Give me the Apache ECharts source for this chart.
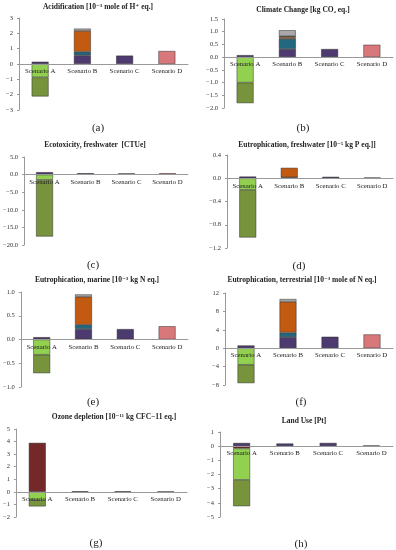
<!DOCTYPE html>
<html><head><meta charset="utf-8">
<script src="https://cdn.jsdelivr.net/npm/echarts@6/dist/echarts.min.js"></script>
<style>html,body{margin:0;padding:0;background:#fff}#c{width:396px;height:550px}</style>
</head><body><div id="c"></div>
<script>
// Categories
const scenarios = ['Scenario A', 'Scenario B', 'Scenario C', 'Scenario D'];
// Panel titles
const titles = [
  'Acidification [10\u207B\u00B3 mole of H\u207A eq.]',
  'Climate Change [kg CO\u2082 eq.]',
  'Ecotoxicity, freshwater  [CTUe]',
  'Eutrophication, freshwater [10\u207B\u2075 kg P eq.]]',
  'Eutrophication, marine [10\u207B\u00B3 kg N eq.]',
  'Eutrophication, terrestrial [10\u207B\u00B3 mole of N eq.]',
  'Ozone depletion [10\u207B\u00B9\u00B9 kg CFC\u221211 eq.]',
  'Land Use [Pt]'
];
const panelLetters = ['(a)', '(b)', '(c)', '(d)', '(e)', '(f)', '(g)', '(h)'];
// Axis ranges per panel
const yMin = [-3, -2, -20, -1.2, -1, -8, -2, -5];
const yMax = [3, 1.5, 5, 0.4, 1, 12, 5, 1];
const yStep = [1, 0.5, 5, 0.4, 0.5, 4, 1, 1];
const yDecimals = [0, 1, 1, 1, 1, 0, 0, 0];

// Stack components, one row per panel (a..h), values for Scenario A..D
const purple = [
  [0.15, 0.57, 0.55, 0], [0.08, 0.32, 0.32, 0], [0.7, 0.4, 0.35, 0], [0.03, 0.015, 0.025, 0],
  [0.05, 0.22, 0.22, 0], [0.6, 2.4, 2.5, 0], [0, 0.05, 0.05, 0], [0.23, 0.19, 0.23, 0]
];
const teal = [
  [0, 0.23, 0, 0], [0, 0.40, 0, 0], [0, 0, 0, 0], [0, 0, 0, 0],
  [0, 0.09, 0, 0], [0, 1.0, 0, 0], [0, 0, 0, 0], [0, 0, 0, 0]
];
const orange = [
  [0, 1.36, 0, 0], [0, 0.07, 0, 0], [0, 0, 0, 0], [0, 0.165, 0, 0],
  [0, 0.59, 0, 0], [0, 6.7, 0, 0], [0, 0, 0, 0], [0, 0, 0, 0]
];
const darkRed = [
  [0, 0, 0, 0], [0, 0.04, 0, 0], [0, 0, 0, 0], [0, 0, 0, 0],
  [0, 0, 0, 0], [0, 0, 0, 0], [3.9, 0, 0, 0], [-0.16, 0, 0, 0]
];
const gray = [
  [0, 0.15, 0, 0], [0, 0.23, 0, 0], [0, 0, 0, 0], [0, 0, 0, 0],
  [0, 0.05, 0, 0], [0, 0.6, 0, 0], [0, 0, 0, 0], [0, 0, 0, 0]
];
const lightGreen = [
  [-0.87, 0, 0, 0], [-1.0, 0, 0, 0], [-1.5, 0, 0, 0], [-0.2, 0, 0, 0],
  [-0.32, 0, 0, 0], [-3.6, 0, 0, 0], [-0.66, 0, 0, 0], [-2.22, 0, 0, 0]
];
const olive = [
  [-1.25, 0, 0, 0], [-0.81, 0, 0, 0], [-16.1, 0, 0, 0], [-0.82, 0, 0, 0],
  [-0.39, 0, 0, 0], [-4.0, 0, 0, 0], [-0.5, 0, 0, 0], [-1.86, 0, 0, 0]
];
const pink = [
  [0, 0, 0, 0.85], [0, 0, 0, 0.49], [0, 0, 0, 0.4], [0, 0, 0, 0.012],
  [0, 0, 0, 0.28], [0, 0, 0, 3.0], [0, 0, 0, 0.02], [0, 0, 0, 0.05]
];

const seriesData = [purple, teal, orange, darkRed, gray, lightGreen, olive, pink];
const seriesColors = ['#4d3b6f', '#24687f', '#c25a12', '#75282a', '#a8a8a8', '#92d050', '#77933c', '#d9787b'];

// Layout (pixels)
const grids = [
  {left: 19, top: 18, width: 169, height: 92},
  {left: 224, top: 19, width: 169, height: 89},
  {left: 22, top: 157, width: 166, height: 88},
  {left: 227, top: 155, width: 166, height: 93},
  {left: 20, top: 292, width: 168, height: 95},
  {left: 225, top: 293, width: 168, height: 92},
  {left: 13, top: 429, width: 174, height: 88},
  {left: 220, top: 432, width: 173, height: 85}
];
const titlePos = [[98, 7], [303, 10], [95, 145], [307, 145], [97, 280], [302, 280], [114, 417], [304, 421]];
const letterPos = [[98, 128], [303, 128], [93, 265], [299, 266], [93, 402], [301, 402], [96, 543], [301, 544]];

const serif = '"Liberation Serif", "DejaVu Serif", serif';
const option = {
  animation: false,
  backgroundColor: '#fff',
  grid: grids.map(g => Object.assign({containLabel: false}, g)),
  xAxis: grids.map((g, i) => ({
    type: 'category', gridIndex: i, data: scenarios, position: 'bottom', z: 10,
    // place the axis (line + labels) at the zero level of the value axis
    offset: -g.height * (0 - yMin[i]) / (yMax[i] - yMin[i]),
    axisLine: {onZero: false, lineStyle: {color: '#999', width: 1}},
    axisTick: {show: false},
    axisLabel: {interval: 0, fontFamily: serif, fontSize: 6.8, color: '#222', margin: 4}
  })),
  yAxis: grids.map((g, i) => ({
    type: 'value', gridIndex: i, min: yMin[i], max: yMax[i], interval: yStep[i],
    splitLine: {show: false},
    axisLine: {show: true, lineStyle: {color: '#999', width: 1}},
    axisTick: {show: true, length: 2, lineStyle: {color: '#999'}},
    axisLabel: {
      fontFamily: serif, fontSize: 6.5, color: '#333', margin: 6,
      formatter: v => {
        const s = Math.abs(v).toFixed(yDecimals[i]);
        return v < 0 ? '\u2212' + s : s;
      }
    }
  })),
  series: [],
  graphic: []
};

grids.forEach((g, i) => {
  seriesData.forEach((arr, k) => {
    option.series.push({
      type: 'bar', xAxisIndex: i, yAxisIndex: i, stack: 'p' + i,
      barWidth: 17, z: 2,
      data: arr[i].map(v => (v === 0 ? null : v)),
      itemStyle: {color: seriesColors[k], borderColor: 'rgba(40,40,40,0.8)', borderWidth: 0.6}
    });
  });
  option.graphic.push({
    type: 'text', x: titlePos[i][0], y: titlePos[i][1],
    style: {text: titles[i], font: 'bold 7.5px ' + serif, fill: '#222', textAlign: 'center', textVerticalAlign: 'middle'}
  });
  option.graphic.push({
    type: 'text', x: letterPos[i][0], y: letterPos[i][1],
    style: {text: panelLetters[i], font: '11px ' + serif, fill: '#222', textAlign: 'center', textVerticalAlign: 'middle'}
  });
});

const chart = echarts.init(document.getElementById('c'), null, {renderer: 'canvas'});
chart.setOption(option);
</script>
</body></html>
